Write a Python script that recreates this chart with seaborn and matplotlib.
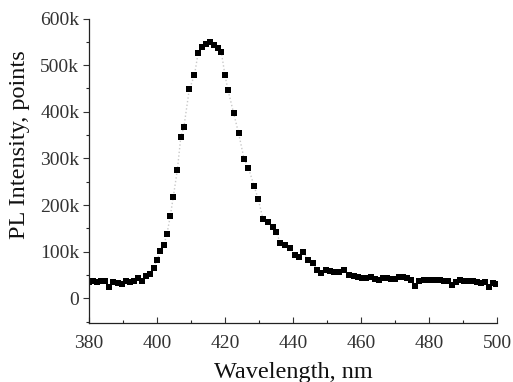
import matplotlib
matplotlib.use("Agg")
import matplotlib.pyplot as plt
import seaborn as sns
import pandas as pd
from matplotlib.ticker import MultipleLocator, FuncFormatter

wavelength = [380.0, 381.2, 382.4, 383.6, 384.8, 386.0, 387.2, 388.4, 389.6, 390.8,
              392.0, 393.2, 394.4, 395.6, 396.8, 398.0, 399.0, 400.0, 401.0, 402.0,
              402.9, 403.9, 404.8, 406.0, 407.0, 407.9, 409.5, 411.0, 412.1, 413.2,
              414.4, 415.6, 416.8, 418.0, 418.9, 420.0, 420.9, 422.5, 424.0, 425.6,
              426.9, 428.6, 429.8, 431.2, 432.6, 434.0, 435.1, 436.2, 437.6, 439.0,
              440.5, 441.8, 443.0, 444.4, 445.9, 447.2, 448.2, 449.8, 451.0, 452.2,
              453.6, 455.0, 456.5, 457.8, 459.0, 460.4, 461.6, 462.8, 464.0, 465.2,
              466.4, 467.6, 468.8, 470.0, 471.2, 472.4, 473.6, 474.8, 476.0, 477.2,
              478.4, 479.6, 480.8, 482.0, 483.2, 484.4, 485.6, 486.8, 488.0, 489.2,
              490.4, 491.6, 492.8, 494.0, 495.2, 496.4, 497.6, 498.8, 499.8]

intensity_k = [35, 36, 35, 37, 38, 25, 35, 33, 30, 36,
               34, 37, 44, 37, 47, 52, 66, 82, 101, 114,
               137, 176, 218, 276, 346, 367, 448, 478, 526, 538,
               546, 549, 543, 536, 529, 478, 446, 398, 354, 299,
               279, 240, 212, 169, 164, 153, 143, 119, 114, 107,
               93, 89, 100, 82, 75, 60, 54, 61, 58, 57,
               57, 61, 50, 48, 46, 43, 44, 46, 42, 39,
               44, 43, 41, 42, 46, 45, 44, 40, 26, 36,
               39, 40, 39, 40, 39, 38, 36, 28, 35, 39,
               38, 36, 36, 34, 33, 35, 25, 33, 30]

x_ticks = [380, 400, 420, 440, 460, 480, 500]
y_ticks = [0, 100000, 200000, 300000, 400000, 500000, 600000]

df = pd.DataFrame({"Wavelength": wavelength,
                   "Intensity": [v * 1000 for v in intensity_k]})

sns.set_style("ticks")
plt.rcParams["font.family"] = ["Liberation Serif", "DejaVu Serif"]

fig = plt.figure(figsize=(5.13, 3.82), dpi=100)
ax = fig.add_axes([89 / 513, 1 - 323 / 382, (497 - 89) / 513, (323 - 18.5) / 382])

sns.lineplot(data=df, x="Wavelength", y="Intensity", ax=ax, color="#c8c8c8",
             linestyle=":", linewidth=1.0, zorder=1)
sns.scatterplot(data=df, x="Wavelength", y="Intensity", ax=ax, marker="s",
                s=24, color="black", edgecolor="black", linewidth=0, zorder=2)

ax.set_xlim(380, 500)
ax.set_ylim(-53000, 600000)
ax.set_xticks(x_ticks)
ax.set_yticks(y_ticks)
ax.xaxis.set_minor_locator(MultipleLocator(10))
ax.yaxis.set_minor_locator(MultipleLocator(50000))
ax.yaxis.set_major_formatter(FuncFormatter(lambda v, p: "0" if v == 0 else f"{int(v/1000)}k"))

ax.tick_params(axis="x", which="major", direction="in", length=4, width=0.8,
               labelsize=14, pad=9, colors="#333333")
ax.tick_params(axis="x", which="minor", direction="in", length=2.5, width=0.8)
ax.tick_params(axis="y", which="major", direction="out", length=4, width=0.8,
               labelsize=14, pad=3, colors="#333333")
ax.tick_params(axis="y", which="minor", direction="out", length=2.5, width=0.8)

for side in ["top", "right"]:
    ax.spines[side].set_visible(False)
for side in ["left", "bottom"]:
    ax.spines[side].set_linewidth(0.9)
    ax.spines[side].set_color("#222222")

ax.set_xlabel("Wavelength, nm", fontsize=17.5, labelpad=7, color="#111111")
ax.set_ylabel("PL Intensity, points", fontsize=17.5, color="#111111")
ax.yaxis.label.set_va("center")
ax.yaxis.set_label_coords((20 - 89) / 408, (323 - 145) / 304.5)

fig.savefig("out.png", dpi=100)
